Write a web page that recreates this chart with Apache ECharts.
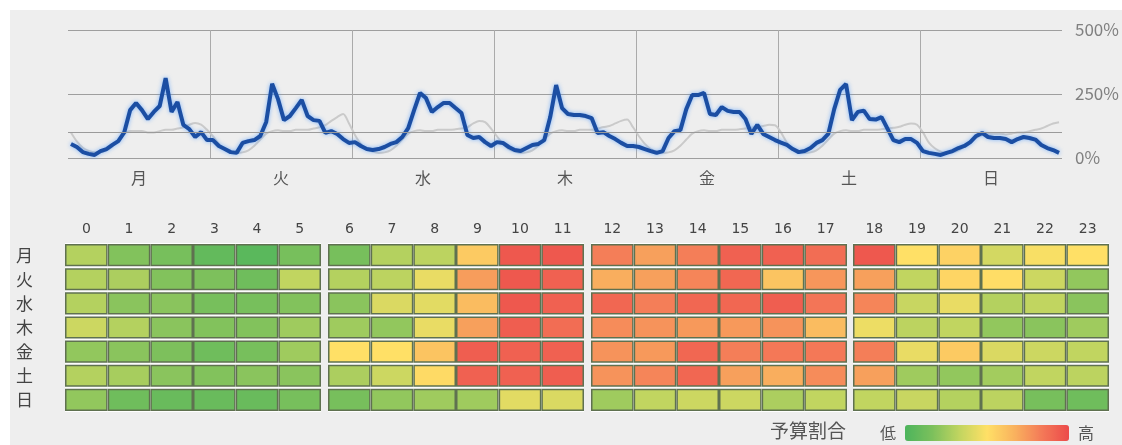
<!DOCTYPE html>
<html>
<head>
<meta charset="utf-8">
<script src="https://cdn.jsdelivr.net/npm/echarts@6/dist/echarts.min.js"></script>
<style>
html,body{margin:0;padding:0;background:#fff;}
#c{width:1122px;height:445px;}
</style>
</head>
<body>
<div id="c"></div>
<script>
// ---- data ----
const days = ['月','火','水','木','金','土','日'];
const hours = ['0','1','2','3','4','5','6','7','8','9','10','11','12','13','14','15','16','17','18','19','20','21','22','23'];
const yTicks = [0, 250, 500];
const refLine = 100;

// hourly budget ratio (%) - current (blue)
const blueMon = [55,43,23,16,12,27,35,51,66,100,187,215,187,152,180,203,312,180,219,129,113,82,101,70];
const blueTue = [70,47,35,23,20,59,66,70,86,141,290,230,148,164,195,227,164,148,145,98,105,94,74,59];
const blueWed = [62,47,35,31,35,43,55,62,82,117,187,254,234,180,199,215,215,195,176,90,78,82,62,47];
const blueThu = [62,59,43,31,27,39,51,55,70,160,285,195,172,168,168,164,156,98,101,86,74,59,47,47];
const blueFri = [43,35,27,20,27,78,105,109,191,246,246,254,172,168,199,184,180,180,152,94,129,94,82,70];
const blueSat = [60,51,35,23,27,39,59,70,94,191,266,289,148,180,185,152,150,160,115,70,62,74,74,59];
const blueSun = [27,20,16,12,20,27,39,47,62,86,98,82,78,78,74,62,74,82,78,72,51,39,31,20];

// comparison (gray)
const grayMon = [100,65,40,28,22,22,30,45,70,95,105,105,105,100,100,105,110,110,115,120,130,137,130,110];
const grayTue = [85,55,35,25,20,22,30,48,72,95,105,108,105,105,110,110,110,115,120,128,145,160,172,135];
const grayWed = [90,55,35,25,20,22,30,48,72,95,105,108,105,105,110,110,110,112,115,120,135,145,140,115];
const grayThu = [85,55,35,25,20,22,30,48,72,95,105,108,105,105,110,110,110,115,121,125,135,145,150,120];
const grayFri = [85,55,35,25,20,22,30,48,72,95,105,108,105,105,110,110,110,112,115,118,122,125,130,128];
const graySat = [100,60,35,25,20,22,30,48,72,95,105,108,105,105,110,110,110,112,115,118,122,130,135,130];
const graySun = [100,60,38,25,20,22,30,45,65,80,90,95,95,95,92,95,100,100,105,110,115,125,135,140];

// heatmap (budget share, 0 = low, 100 = high)
const heatMon = [30,18,15,8,5,15,15,30,32,58,95,95,82,72,82,92,92,88,95,50,55,38,48,50];
const heatTue = [30,28,18,17,12,33,30,32,44,73,95,92,68,72,80,90,60,75,72,33,54,51,36,22];
const heatWed = [30,20,20,15,15,18,20,40,42,63,95,92,90,82,90,90,93,85,80,35,44,30,33,20];
const heatThu = [36,30,20,18,18,25,25,22,44,72,93,88,78,76,74,74,76,63,45,32,33,22,20,25];
const heatFri = [22,20,17,12,15,25,50,50,60,93,92,92,76,74,90,82,84,84,82,44,58,40,36,33];
const heatSat = [30,27,20,18,20,20,28,36,52,92,92,93,76,80,90,72,68,78,72,25,22,26,33,32];
const heatSun = [22,12,10,10,10,15,15,22,25,25,42,40,25,33,36,36,28,33,33,35,30,32,15,12];

// ---- build ----
const blueWeek = [blueMon,blueTue,blueWed,blueThu,blueFri,blueSat,blueSun];
const grayWeek = [grayMon,grayTue,grayWed,grayThu,grayFri,graySat,graySun];
const heatWeek = [heatMon,heatTue,heatWed,heatThu,heatFri,heatSat,heatSun];

function toLine(week){
  const out = [];
  week.forEach((arr, d) => arr.forEach((v, h) => out.push([d*24 + h + 0.5, v])));
  return out;
}

const FONT = '"Noto Sans CJK JP", "Noto Sans", sans-serif';
const blockLeft = [65, 328, 591, 853];
const blockWidth = 256;
const heatTop = 243, heatHeight = 169;

const grids = [{left:68, right:60, top:30, height:128}];
const xAxes = [
  {type:'value', gridIndex:0, min:0, max:168, interval:24,
   axisLabel:{show:false}, axisTick:{show:false}, axisLine:{show:false},
   splitLine:{show:true, showMinLine:false, showMaxLine:false, lineStyle:{color:'#aaaaaa', width:1}}},
  {type:'category', gridIndex:0, data:days, position:'bottom',
   axisLine:{show:false}, axisTick:{show:false}, splitLine:{show:false},
   axisLabel:{fontSize:16, color:'#555', margin:12, fontFamily:FONT}}
];
const yAxes = [
  {type:'value', gridIndex:0, position:'right', min:yTicks[0], max:yTicks[2], interval:yTicks[1]-yTicks[0],
   axisLine:{show:false}, axisTick:{show:false},
   axisLabel:{formatter:'{value}%', fontSize:17, color:'#808080', margin:13, padding:[6,0,0,0], fontFamily:FONT},
   splitLine:{lineStyle:{color:'#9e9e9e', width:1}}}
];
const series = [
  {type:'line', xAxisIndex:0, yAxisIndex:0, data:toLine(grayWeek), symbol:'none', smooth:0.3,
   lineStyle:{color:'#cacaca', width:2}, z:3, silent:true,
   markLine:{silent:true, symbol:'none', label:{show:false},
     lineStyle:{color:'#9a9a9a', width:1, type:'solid'}, data:[{yAxis:refLine}]}},
  {type:'line', xAxisIndex:0, yAxisIndex:0, data:toLine(blueWeek), symbol:'none',
   lineStyle:{color:'#1b4ea3', width:4, shadowColor:'rgba(70,150,255,0.65)', shadowBlur:4}, z:4, silent:true}
];

for (let b = 0; b < 4; b++) {
  grids.push({left:blockLeft[b], width:blockWidth, top:heatTop, height:heatHeight});
  xAxes.push({type:'category', gridIndex:b+1, data:hours.slice(b*6, b*6+6), position:'top',
    axisLine:{show:false}, axisTick:{show:false}, splitLine:{show:false},
    axisLabel:{fontSize:14, color:'#444', margin:7, fontFamily:'"DejaVu Sans", sans-serif'}});
  yAxes.push({type:'category', gridIndex:b+1, data:days, inverse:true,
    axisLine:{show:false}, axisTick:{show:false}, splitLine:{show:false},
    axisLabel:{show:b===0, fontSize:17, color:'#444', margin:32, fontFamily:FONT}});
  const data = [];
  for (let d = 0; d < 7; d++) for (let i = 0; i < 6; i++) data.push([i, d, heatWeek[d][b*6+i]]);
  series.push({
    type:'custom', xAxisIndex:b+2, yAxisIndex:b+1, data:data, silent:true,
    encode:{x:0, y:1},
    renderItem:function(params, api){
      const c = api.coord([api.value(0), api.value(1)]);
      const s = api.size([1, 1]);
      const x = c[0]-s[0]/2, y = c[1]-s[1]/2, w = s[0], h = s[1];
      return {type:'group', children:[
        {type:'rect', shape:{x:x, y:y, width:w, height:h}, style:{fill:'#ffffff'}},
        {type:'rect', shape:{x:x+0.75, y:y+1.75, width:w-1.5, height:h-3.5},
         style:{fill:api.visual('color'), stroke:'#5f7150', lineWidth:1.5}}
      ]};
    }
  });
}

const option = {
  backgroundColor:'#eeeeee',
  animation:false,
  textStyle:{fontFamily:FONT},
  graphic:[
    {type:'rect', left:0, top:0, shape:{width:1122, height:10}, style:{fill:'#ffffff'}, silent:true},
    {type:'rect', left:0, top:0, shape:{width:10, height:445}, style:{fill:'#ffffff'}, silent:true},
    {type:'text', left:770, top:421, style:{text:'予算割合', fontSize:19, fill:'#555', fontFamily:FONT}, silent:true}
  ],
  grid:grids,
  xAxis:xAxes,
  yAxis:yAxes,
  visualMap:{
    type:'continuous', min:0, max:100, seriesIndex:[2,3,4,5], dimension:2,
    orient:'horizontal', left:865, top:410, itemWidth:16, itemHeight:164,
    text:['高','低'], textGap:9, calculable:false, hoverLink:false,
    textStyle:{fontSize:16, color:'#555', fontFamily:FONT},
    inRange:{color:['#4cb45c','#7cc05c','#c2d560','#ffe066','#f9b25e','#f47a58','#ec4a4a']}
  },
  series:series
};

const chart = echarts.init(document.getElementById('c'), null, {renderer:'canvas'});
chart.setOption(option);
</script>
</body>
</html>
